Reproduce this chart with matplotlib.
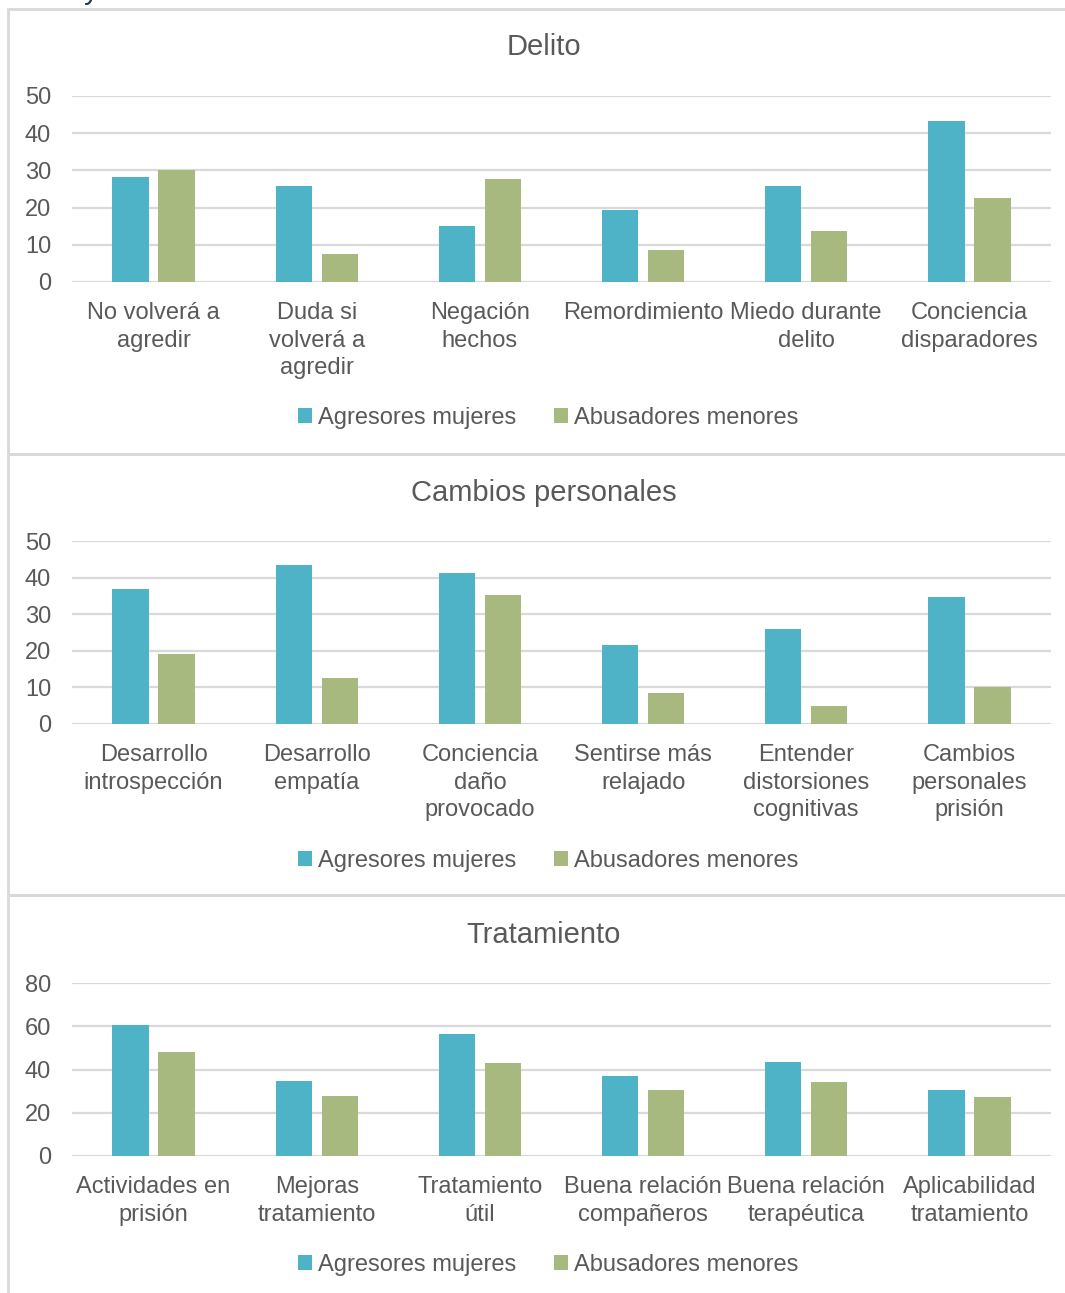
import numpy as np
import matplotlib.pyplot as plt
from matplotlib.patches import Rectangle

plt.rcParams['font.family'] = ['Liberation Sans', 'DejaVu Sans']

# Data
series = ['Agresores mujeres', 'Abusadores menores']

delito_labels = ['No volverá a\nagredir', 'Duda si\nvolverá a\nagredir', 'Negación\nhechos',
                 'Remordimiento', 'Miedo durante\ndelito', 'Conciencia\ndisparadores']
delito_mujeres = [28.2, 25.8, 15.1, 19.4, 25.8, 43.3]
delito_menores = [30.2, 7.4, 27.6, 8.6, 13.6, 22.6]

cambios_labels = ['Desarrollo\nintrospección', 'Desarrollo\nempatía', 'Conciencia\ndaño\nprovocado',
                  'Sentirse más\nrelajado', 'Entender\ndistorsiones\ncognitivas', 'Cambios\npersonales\nprisión']
cambios_mujeres = [36.8, 43.4, 41.2, 21.7, 25.9, 34.6]
cambios_menores = [19.0, 12.6, 35.3, 8.6, 5.0, 10.0]

trat_labels = ['Actividades en\nprisión', 'Mejoras\ntratamiento', 'Tratamiento\nútil',
               'Buena relación\ncompañeros', 'Buena relación\nterapéutica', 'Aplicabilidad\ntratamiento']
trat_mujeres = [60.8, 34.9, 56.5, 36.8, 43.3, 30.3]
trat_menores = [48.2, 27.8, 42.9, 30.3, 34.0, 27.5]

BLUE = '#4fb3c8'
GREEN = '#a7b97f'
TEXT = '#595959'
GRID = '#d9d9d9'

W, H = 1065, 1293
fig = plt.figure(figsize=(W / 100, H / 100), dpi=100)


def fx(px):
    return px / W


def fy(py):
    return 1 - py / H


# panel borders
for top, bottom in [(9, 454), (454, 895), (895, 1300)]:
    fig.patches.append(Rectangle((fx(8), fy(bottom)), fx(1070) - fx(8), fy(top) - fy(bottom),
                                 transform=fig.transFigure, fill=False,
                                 edgecolor=GRID, linewidth=2, zorder=0))

# clipped caption glyph at the very top (cut off in the source as well)
fig.text(fx(84), fy(-1), 'y', fontsize=21, color='#1f3b4d', va='baseline', ha='left')

panels = [
    ('Delito', delito_labels, delito_mujeres, delito_menores, 50, 10, 96, 282, 47, 418),
    ('Cambios personales', cambios_labels, cambios_mujeres, cambios_menores, 50, 10, 541, 724, 493, 861),
    ('Tratamiento', trat_labels, trat_mujeres, trat_menores, 80, 20, 983, 1156, 935, 1265),
]

bw = 0.222
off = 0.141
for title, labels, s1, s2, ymax, step, ytop, ybot, ytitle, yleg in panels:
    ax = fig.add_axes([fx(72), fy(ybot), fx(1051) - fx(72), fy(ytop) - fy(ybot)])
    x = np.arange(len(labels))
    b1 = ax.bar(x - off, s1, bw, color=BLUE, label=series[0], zorder=3)
    b2 = ax.bar(x + off, s2, bw, color=GREEN, label=series[1], zorder=3)
    ax.set_xlim(-0.5, len(labels) - 0.5)
    ax.set_ylim(0, ymax)
    ax.set_yticks(np.arange(0, ymax + 1, step))
    ax.set_xticks(x)
    ax.set_xticklabels(labels, fontsize=17, color=TEXT, linespacing=1.32)
    ax.tick_params(axis='y', labelsize=17, labelcolor=TEXT, length=0, pad=15)
    ax.tick_params(axis='x', length=0, pad=14.5)
    ax.grid(axis='y', color=GRID, linewidth=1.6, zorder=0)
    for s in ax.spines.values():
        s.set_visible(False)
    fig.text(fx(544), fy(ytitle), title, fontsize=21, color=TEXT, ha='center', va='center')
    fig.legend(handles=[b1, b2], labels=series, loc='center', bbox_to_anchor=(fx(548), fy(yleg)),
               ncol=2, frameon=False, fontsize=17, labelcolor=TEXT, handlelength=0.6,
               handleheight=0.6, handletextpad=0.25, columnspacing=1.6)

fig.savefig('out.png', dpi=100)
plt.close()
